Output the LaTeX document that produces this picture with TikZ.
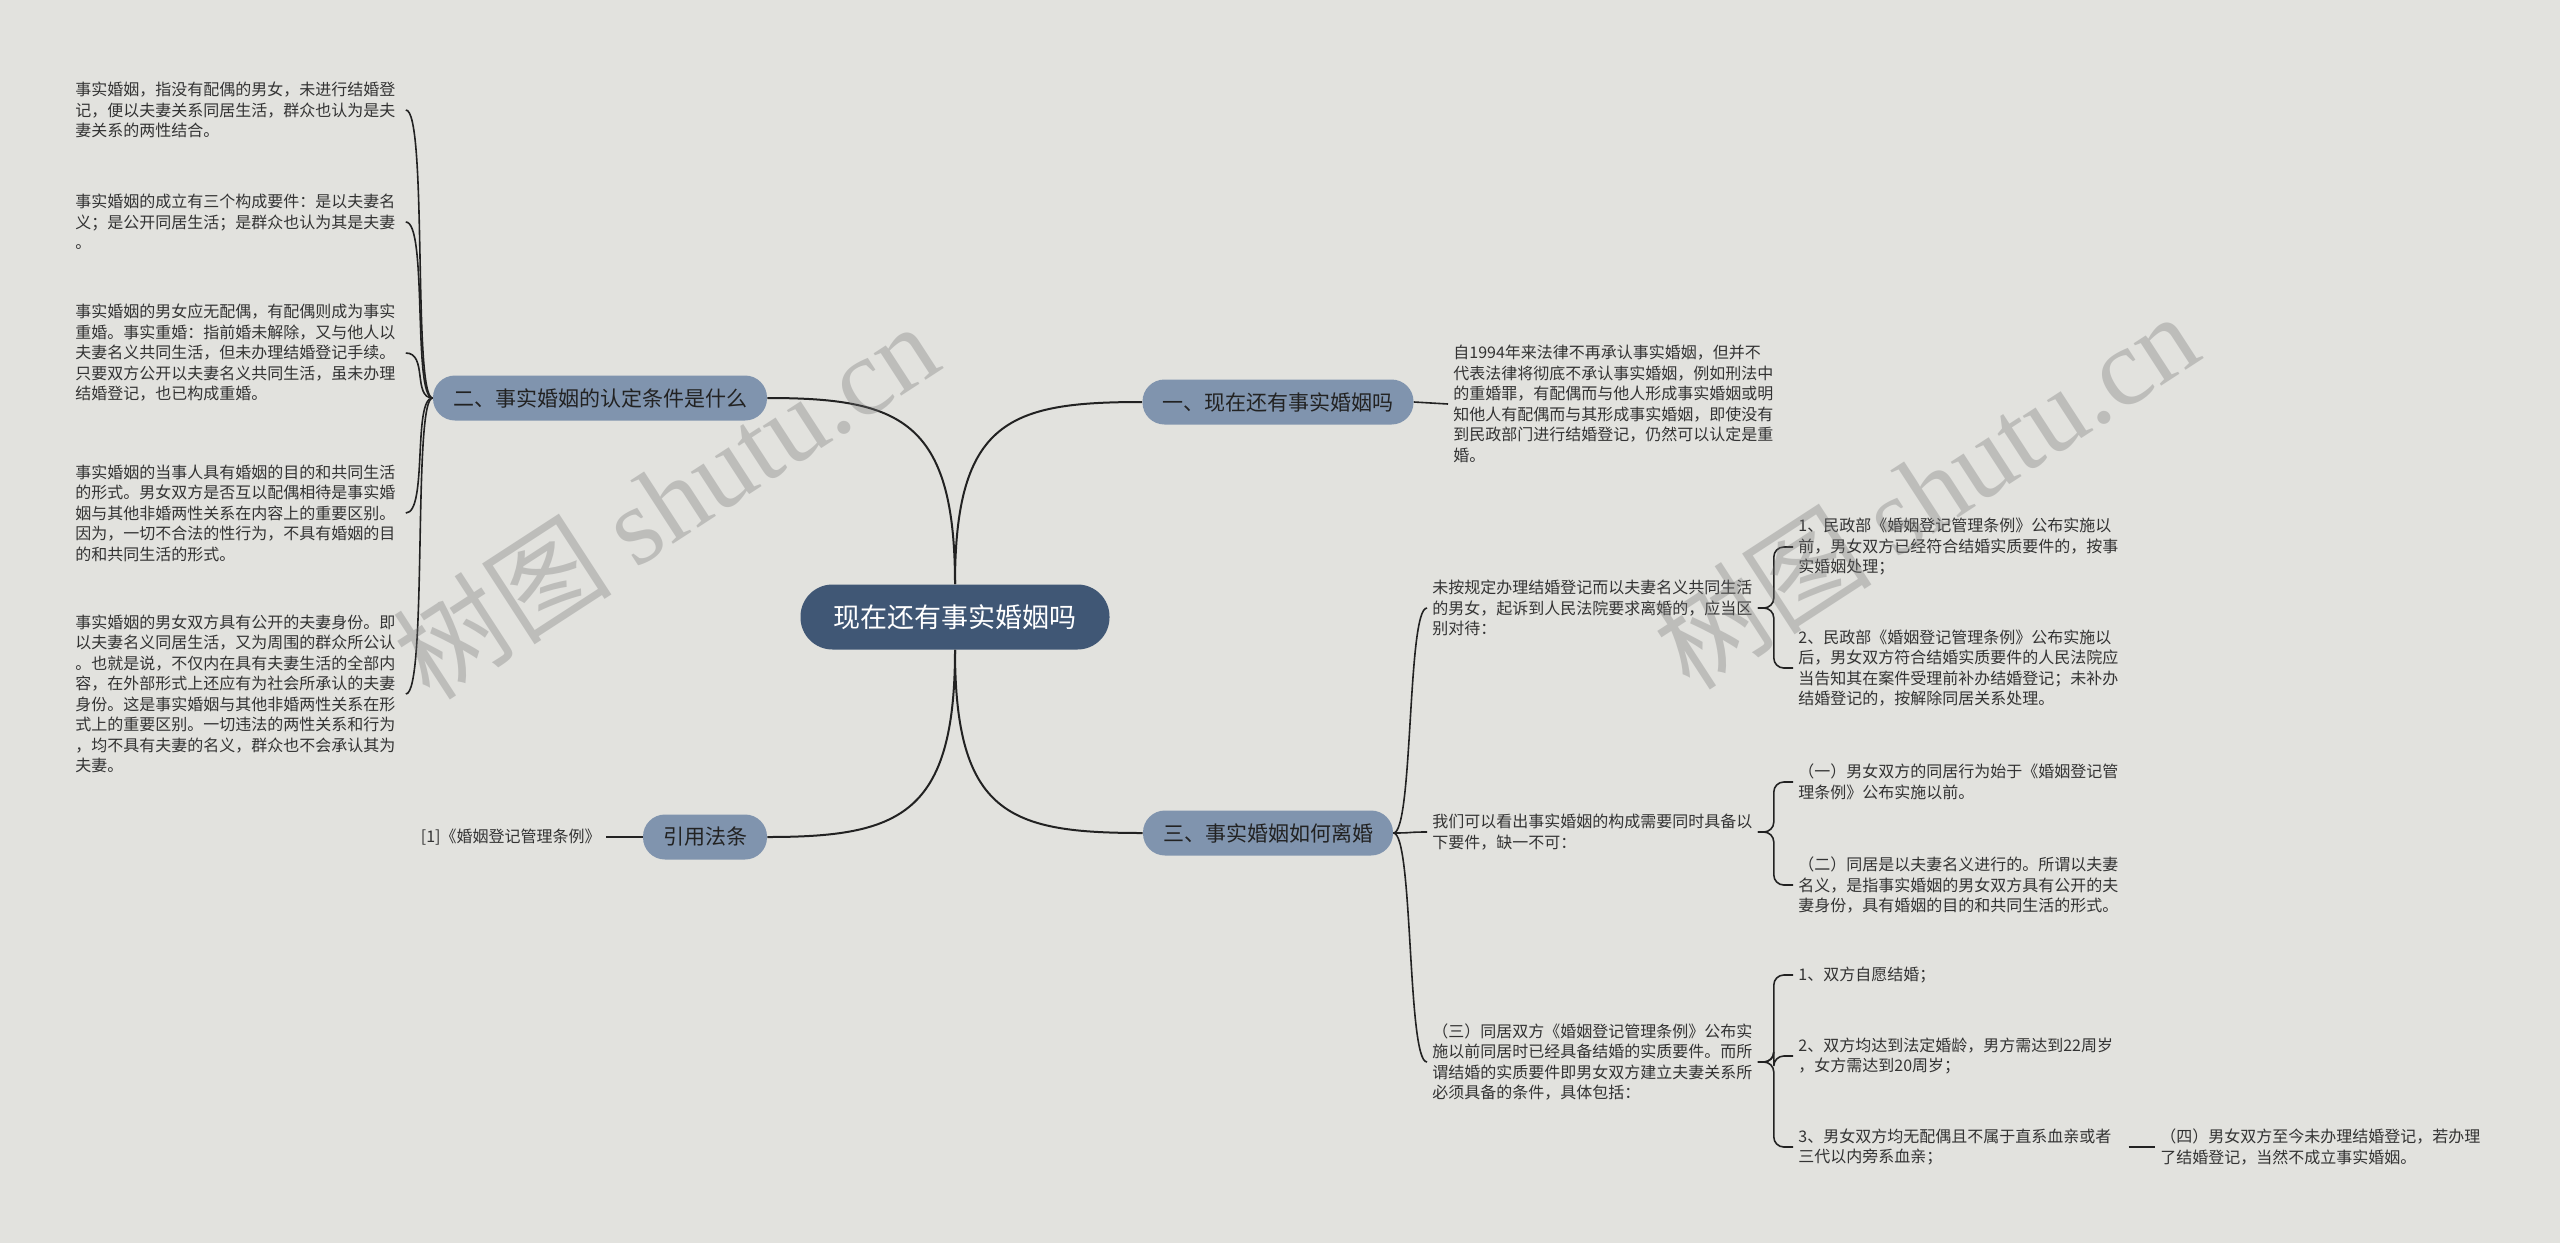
\documentclass[tikz,border=0pt]{standalone}
\usepackage{fontspec}
\setmainfont{Noto Sans CJK SC}
\newfontfamily\wmfont{Liberation Serif}
\usetikzlibrary{positioning}

\definecolor{bgc}{HTML}{E2E2DE}
\definecolor{rootc}{HTML}{405775}
\definecolor{topicc}{HTML}{8094AE}
\definecolor{inkc}{HTML}{222222}
\definecolor{leafc}{HTML}{333333}

\begin{document}
\begin{tikzpicture}[
    x=0.5pt, y=-0.5pt,
    root/.style={fill=rootc, text=white, rounded corners=16pt, minimum height=32.5pt, inner xsep=16.5pt,
      font=\fontsize{13.5pt}{16pt}\selectfont},
    topic/.style={fill=topicc, text=inkc, rounded corners=11pt, minimum height=22.5pt, inner xsep=10pt,
      font=\fontsize{10.5pt}{13pt}\selectfont},
    leaf/.style={anchor=west, align=left, text=leafc, inner xsep=2.5pt, inner ysep=1pt,
      font=\fontsize{8pt}{10.25pt}\selectfont},
    branch/.style={draw=inkc, line width=1pt},
    twig/.style={draw=inkc, line width=0.8pt},
    wmark/.style={text=black!55, text opacity=0.33, rotate=33, font=\fontsize{55pt}{55pt}\selectfont}
]
\fill[bgc] (0,0) rectangle (2560,1243);

% centre and main topics
\node[root] (root) at (955,617) {现在还有事实婚姻吗};
\node[topic] (t1) at (1278,402) {一、现在还有事实婚姻吗};
\node[topic] (t2) at (600,398) {二、事实婚姻的认定条件是什么};
\node[topic] (t3) at (1268,833) {三、事实婚姻如何离婚};
\node[topic] (t4) at (705,837) {引用法条};

\draw[branch] (root.north) .. controls (955,420) and (1010,402) .. (t1.west);
\draw[branch] (root.north) .. controls (955,420) and (900,398) .. (t2.east);
\draw[branch] (root.south) .. controls (955,815) and (1010,833) .. (t3.west);
\draw[branch] (root.south) .. controls (955,815) and (900,837) .. (t4.east);

% topic 1
\node[leaf] (r1) at (1448,404) {自1994年来法律不再承认事实婚姻，但并不\\代表法律将彻底不承认事实婚姻，例如刑法中\\的重婚罪，有配偶而与他人形成事实婚姻或明\\知他人有配偶而与其形成事实婚姻，即使没有\\到民政部门进行结婚登记，仍然可以认定是重\\婚。};
\draw[twig] (t1.east) -- (r1.west);

% topic 2
\node[leaf] (l1) at (70,110) {事实婚姻，指没有配偶的男女，未进行结婚登\\记，便以夫妻关系同居生活，群众也认为是夫\\妻关系的两性结合。};
\node[leaf] (l2) at (70,222) {事实婚姻的成立有三个构成要件：是以夫妻名\\义；是公开同居生活；是群众也认为其是夫妻\\。};
\node[leaf] (l3) at (70,353) {事实婚姻的男女应无配偶，有配偶则成为事实\\重婚。事实重婚：指前婚未解除，又与他人以\\夫妻名义共同生活，但未办理结婚登记手续。\\只要双方公开以夫妻名义共同生活，虽未办理\\结婚登记，也已构成重婚。};
\node[leaf] (l4) at (70,513) {事实婚姻的当事人具有婚姻的目的和共同生活\\的形式。男女双方是否互以配偶相待是事实婚\\姻与其他非婚两性关系在内容上的重要区别。\\因为，一切不合法的性行为，不具有婚姻的目\\的和共同生活的形式。};
\node[leaf] (l5) at (70,694) {事实婚姻的男女双方具有公开的夫妻身份。即\\以夫妻名义同居生活，又为周围的群众所公认\\。也就是说，不仅内在具有夫妻生活的全部内\\容，在外部形式上还应有为社会所承认的夫妻\\身份。这是事实婚姻与其他非婚两性关系在形\\式上的重要区别。一切违法的两性关系和行为\\，均不具有夫妻的名义，群众也不会承认其为\\夫妻。};
\foreach \n in {l1,l2,l3,l4,l5}
  \draw[twig] (t2.west) .. controls +(-20,0) and +(22,0) .. ([xshift=2.5pt]\n.east);

% topic 3
\node[leaf] (m1) at (1427,608) {未按规定办理结婚登记而以夫妻名义共同生活\\的男女，起诉到人民法院要求离婚的，应当区\\别对待：};
\node[leaf] (m2) at (1427,832) {我们可以看出事实婚姻的构成需要同时具备以\\下要件，缺一不可：};
\node[leaf] (m3) at (1427,1062) {（三）同居双方《婚姻登记管理条例》公布实\\施以前同居时已经具备结婚的实质要件。而所\\谓结婚的实质要件即男女双方建立夫妻关系所\\必须具备的条件，具体包括：};
\foreach \n in {m1,m2,m3}
  \draw[twig] (t3.east) .. controls +(20,0) and +(-20,0) .. (\n.west);

\node[leaf] (s1) at (1793,547) {1、民政部《婚姻登记管理条例》公布实施以\\前，男女双方已经符合结婚实质要件的，按事\\实婚姻处理；};
\node[leaf] (s2) at (1793,668) {2、民政部《婚姻登记管理条例》公布实施以\\后，男女双方符合结婚实质要件的人民法院应\\当告知其在案件受理前补办结婚登记；未补办\\结婚登记的，按解除同居关系处理。};
\node[leaf] (s3) at (1793,782) {（一）男女双方的同居行为始于《婚姻登记管\\理条例》公布实施以前。};
\node[leaf] (s4) at (1793,885) {（二）同居是以夫妻名义进行的。所谓以夫妻\\名义，是指事实婚姻的男女双方具有公开的夫\\妻身份，具有婚姻的目的和共同生活的形式。};
\node[leaf] (s5) at (1793,975) {1、双方自愿结婚；};
\node[leaf] (s6) at (1793,1056) {2、双方均达到法定婚龄，男方需达到22周岁\\，女方需达到20周岁；};
\node[leaf] (s7) at (1793,1147) {3、男女双方均无配偶且不属于直系血亲或者\\三代以内旁系血亲；};
\foreach \a/\b in {m1/s1,m1/s2,m2/s3,m2/s4,m3/s5,m3/s6,m3/s7}
  \draw[twig, rounded corners=5pt] (\a.east) -- ++(16,0) |- (\b.west);

\node[leaf] (u1) at (2155,1147) {（四）男女双方至今未办理结婚登记，若办理\\了结婚登记，当然不成立事实婚姻。};
\draw[twig] ([xshift=6pt]s7.east) -- (u1.west);

% topic 4
\node[leaf, anchor=east] (k1) at (606,837) {[1]《婚姻登记管理条例》};
\draw[twig] (k1.east) -- (t4.west);

% watermark
\node[wmark] (wm1) at (665,500) {树图 {\wmfont shutu.cn}};
\node[wmark] (wm2) at (1925,490) {树图 {\wmfont shutu.cn}};
\end{tikzpicture}
\end{document}
